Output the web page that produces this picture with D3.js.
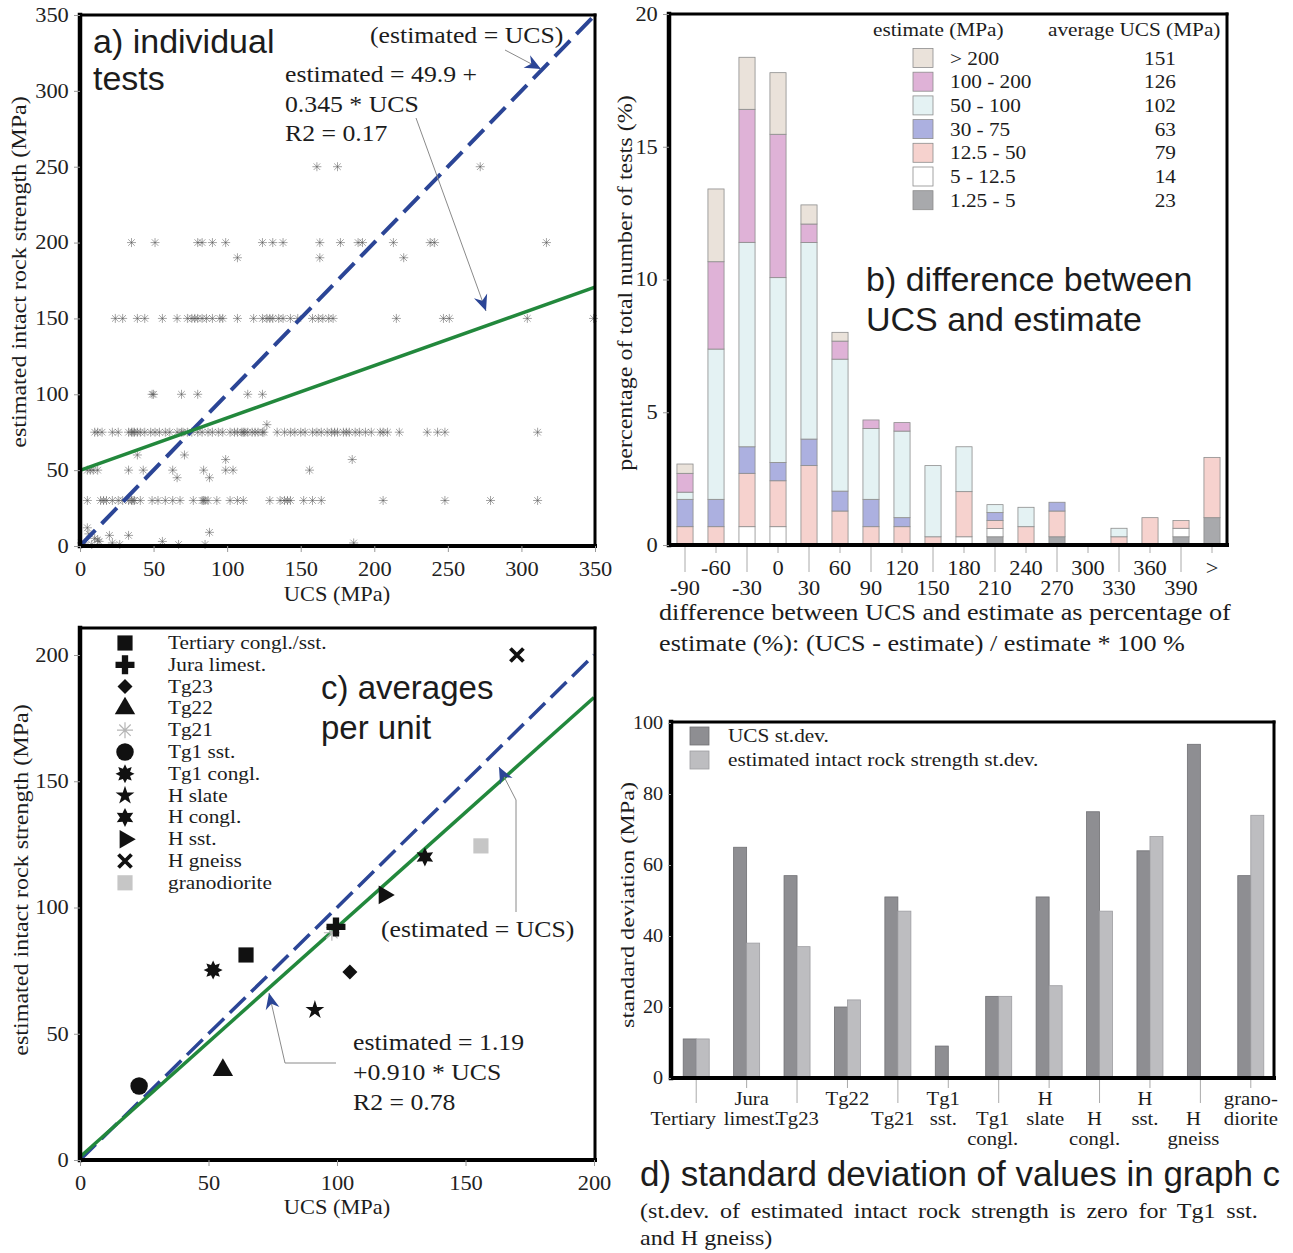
<!DOCTYPE html>
<html>
<head>
<meta charset="utf-8">
<script src="https://cdn.jsdelivr.net/npm/d3@7"></script>
<style>
  body { margin: 0; background: #fff; }
  svg { display: block; }
</style>
</head>
<body>
<svg id="fig" width="1293" height="1253"></svg>
<script>
// ---------- a) individual tests: UCS values at each estimated strength level ----------
const est250 = [161, 175, 272];
const est200 = [35, 51, 80, 83, 90, 99, 124, 131, 138, 163, 177, 189, 192, 213, 238, 241, 317];
const est190 = [107, 163, 220];
const est150 = [24, 29, 39, 44, 56, 66, 73, 76, 78, 80, 83, 86, 90, 95, 97, 107, 118, 124, 127, 129, 131,
                135, 138, 143, 148, 158, 162, 165, 169, 172, 215, 247, 251, 304, 349];
const est100 = [49, 50, 69, 80, 114, 124];
const est80 = [127];
const est75 = [10, 12, 15, 22, 26, 33, 35, 36, 37, 39, 41, 44, 48, 51, 54, 58, 61, 66, 69, 70, 73, 76, 80,
               83, 87, 90, 94, 97, 102, 105, 107, 110, 111, 112, 114, 117, 119, 121, 124, 125, 134, 139,
               143, 146, 150, 153, 158, 161, 164, 168, 171, 173, 175, 179, 181, 183, 187, 190, 194, 198,
               204, 206, 209, 217, 236, 243, 248, 311];
const est60 = [39, 71];
const est57 = [99, 185];
const est50 = [5, 7, 9, 12, 33, 43, 63, 84, 99, 104, 156];
const est45 = [66, 88];
const est30 = [5, 14, 16, 18, 22, 26, 29, 33, 35, 36, 37, 41, 49, 53, 58, 63, 68, 77, 83, 84, 85, 87, 93,
               102, 107, 111, 129, 136, 139, 141, 143, 152, 158, 164, 206, 248, 279, 311];
const lowUcs = [1, 3, 5, 6, 8, 10, 12, 13, 20, 22, 27, 33, 56, 67, 85, 88, 186];
const lowEst = [2, 2, 12, 8, 1, 5, 4, 3, 7, 2, 1, 7, 3, 1, 1, 9, 2];
const fitA = [49.9, 0.345];
const ticksA = [0, 50, 100, 150, 200, 250, 300, 350];

// ---------- b) difference between UCS and estimate ----------
const diffBins = ["-90", "-60", "-30", "0", "30", "60", "90", "120", "150", "180", "210", "240", "270",
                  "300", "330", "360", "390", ">"];
const estClasses = ["1.25 - 5", "5 - 12.5", "12.5 - 50", "30 - 75", "50 - 100", "100 - 200", "> 200"];
const avgUcs = [23, 14, 79, 63, 102, 126, 151];
const pct1_25 = [0, 0, 0, 0, 0, 0, 0, 0, 0, 0, 0.31, 0, 0.31, 0, 0, 0, 0.31, 1.03];
const pct5 = [0, 0, 0.69, 0.69, 0, 0, 0, 0, 0, 0.31, 0.31, 0, 0, 0, 0, 0, 0.32, 0];
const pct12_5 = [0.69, 0.69, 2.01, 1.73, 2.99, 1.28, 0.69, 0.69, 0.31, 1.7, 0.3, 0.69, 0.97, 0, 0.31, 1.03, 0.29, 2.27];
const pct30 = [1.03, 1.03, 1.0, 0.69, 1.0, 0.75, 1.03, 0.34, 0, 0, 0.3, 0, 0.33, 0, 0, 0, 0, 0];
const pct50 = [0.27, 5.66, 7.7, 6.96, 7.4, 4.97, 2.67, 3.26, 2.68, 1.69, 0.3, 0.73, 0, 0, 0.32, 0, 0, 0];
const pct100 = [0.71, 3.29, 5.01, 5.4, 0.7, 0.68, 0.32, 0.32, 0, 0, 0, 0, 0, 0, 0, 0, 0, 0];
const pct200 = [0.35, 2.74, 1.96, 2.32, 0.72, 0.33, 0, 0, 0, 0, 0, 0, 0, 0, 0, 0, 0, 0];
const ticksB = [0, 5, 10, 15, 20];
const classColors = ["#a8a9ac", "#ffffff", "#f6d2ce", "#acb0e0", "#e4f2f3", "#dfb2d7", "#eae2da"];

// ---------- c) averages per unit ----------
const units = ["Tertiary congl./sst.", "Jura limest.", "Tg23", "Tg22", "Tg21", "Tg1 sst.", "Tg1 congl.",
               "H slate", "H congl.", "H sst.", "H gneiss", "granodiorite"];
const unitUcs = [64.6, 99.6, 105, 55.6, 98, 23, 51.8, 91.4, 134.2, 118.3, 170, 156];
const unitEst = [81.2, 92.3, 74.5, 35.6, 90, 29.3, 75.2, 59.4, 120, 105, 200, 124.4];
const fitC = [1.19, 0.910];
const ticksC = [0, 50, 100, 150, 200];

// ---------- d) standard deviations ----------
const sdLabels = [["Tertiary"], ["Jura", "limest."], ["Tg23"], ["Tg22"], ["Tg21"], ["Tg1", "sst."],
                  ["Tg1", "congl."], ["H", "slate"], ["H", "congl."], ["H", "sst."], ["H", "gneiss"],
                  ["grano-", "diorite"]];
const ucsSd = [11, 65, 57, 20, 51, 9, 23, 51, 75, 64, 94, 57];
const estSd = [11, 38, 37, 22, 47, 0, 23, 26, 47, 68, 0, 74];
const ticksD = [0, 20, 40, 60, 80, 100];

const SERIF = "'Liberation Serif', 'Times New Roman', serif";
const SANS = "'Liberation Sans', Arial, sans-serif";
const SX = 1.12; // the original lettering is a bit wider than Times
const BLUE = "#2b4596";
const GREEN = "#22883c";
// labels under the d bars sit a little off their ticks in the original
const labelShiftD = [-13, 5, 0, 0, -5, -5, -6, -4, -5, -5, -7, 0];

const svg = d3.select("#fig");
svg.append("rect").attr("width", 1293).attr("height", 1253).attr("fill", "#fff");

// arrowhead used by the annotation leaders
svg.append("defs").append("marker")
    .attr("id", "arrow")
    .attr("markerUnits", "userSpaceOnUse")
    .attr("viewBox", "-17 -8 18 16")
    .attr("refX", 0).attr("refY", 0)
    .attr("markerWidth", 18).attr("markerHeight", 16)
    .attr("orient", "auto")
    .append("path")
    .attr("d", "M0,0L-16,-7L-11,0L-16,7Z")
    .attr("fill", BLUE);

function txt(g, x, y, s, size, o = {}) {
    let tr = `translate(${x},${y})`;
    if (o.rot) tr += ` rotate(${o.rot})`;
    const sx = o.sans || o.len ? 1 : SX;
    tr += ` scale(${sx},1)`;
    const t = g.append("text")
        .attr("transform", tr)
        .attr("font-family", o.sans ? SANS : SERIF)
        .attr("font-size", size)
        .attr("text-anchor", o.anchor || "start")
        .attr("fill", o.fill || "#1c1c1c")
        .text(s);
    if (o.len) t.attr("textLength", o.len).attr("lengthAdjust", "spacingAndGlyphs");
    if (o.ws) t.attr("word-spacing", o.ws);
    return t;
}

function frame(g, x0, y0, x1, y1) {
    const sides = [[x0, y0, x1, y0, 3], [x1, y0, x1, y1, 3], [x0, y1, x1, y1, 4], [x0, y0, x0, y1, 4.5]];
    sides.forEach(s => g.append("line")
        .attr("x1", s[0]).attr("y1", s[1]).attr("x2", s[2]).attr("y2", s[3])
        .attr("stroke", "#000").attr("stroke-width", s[4]).attr("stroke-linecap", "square"));
}

function styleAxis(ax, size) {
    ax.select(".domain").remove();
    ax.selectAll(".tick line").attr("stroke", "#999");
    ax.selectAll(".tick text")
        .attr("font-family", SERIF).attr("font-size", size).attr("fill", "#222")
        .attr("transform", `scale(${SX},1)`);
}

function leader(g, pts) {
    g.append("path")
        .attr("d", d3.line()(pts))
        .attr("fill", "none").attr("stroke", "#8a8a8a").attr("stroke-width", 1)
        .attr("marker-end", "url(#arrow)");
}

const AST = "M-4.5,0H4.5M0,-4.5V4.5M-3.3,-3.3L3.3,3.3M-3.3,3.3L3.3,-3.3";

// ================= panel a =================
const gA = svg.append("g");
const xA = d3.scaleLinear([0, 350], [80, 595]);
const yA = d3.scaleLinear([0, 350], [546, 15]);

const levelsA = [[250, est250], [200, est200], [190, est190], [150, est150], [100, est100], [80, est80],
                 [75, est75], [60, est60], [57, est57], [50, est50], [45, est45], [30, est30]];
const ptsA = [];
levelsA.forEach(([e, arr]) => arr.forEach(u => ptsA.push([u, e])));
lowUcs.forEach((u, i) => ptsA.push([u, lowEst[i]]));

gA.append("g").selectAll("path")
    .data(ptsA)
    .join("path")
    .attr("transform", d => `translate(${xA(d[0])},${yA(d[1])})`)
    .attr("d", AST)
    .attr("fill", "none").attr("stroke", "#555").attr("stroke-width", 0.9).attr("opacity", 0.6);

const lineA = d3.line().x(d => xA(d[0])).y(d => yA(d[1]));
gA.append("path").attr("d", lineA([[0, 0], [350, 350]]))
    .attr("fill", "none").attr("stroke", BLUE).attr("stroke-width", 4).attr("stroke-dasharray", "22 9");
gA.append("path").attr("d", lineA([0, 350].map(u => [u, fitA[0] + fitA[1] * u])))
    .attr("fill", "none").attr("stroke", GREEN).attr("stroke-width", 3.5);

frame(gA, 80, 15, 595, 546);
styleAxis(gA.append("g").attr("transform", "translate(80,0)")
    .call(d3.axisLeft(yA).tickValues(ticksA).tickSize(6).tickPadding(4)), 20);
styleAxis(gA.append("g").attr("transform", "translate(0,546)")
    .call(d3.axisBottom(xA).tickValues(ticksA).tickSize(6).tickPadding(10)), 20);

txt(gA, 337, 601, "UCS (MPa)", 20, { anchor: "middle" });
txt(gA, 26, 272, "estimated intact rock strength (MPa)", 21.5, { anchor: "middle", rot: -90 });
txt(gA, 93, 53, "a) individual", 34, { sans: true });
txt(gA, 93, 90, "tests", 34, { sans: true });
txt(gA, 370, 43, "(estimated = UCS)", 23);
txt(gA, 285, 82, "estimated = 49.9 +", 23);
txt(gA, 285, 112, "0.345 * UCS", 23);
txt(gA, 285, 141, "R2 = 0.17", 23);
leader(gA, [[505, 50], [541, 69]]);
leader(gA, [[416, 118], [486, 311]]);

// ================= panel b =================
const gB = svg.append("g");
const xB = d3.scaleBand(diffBins, [669.5, 1227.5]).paddingInner(0.48).paddingOuter(0.24);
const yB = d3.scaleLinear([0, 20], [545, 14]);
const pctSeries = [pct1_25, pct5, pct12_5, pct30, pct50, pct100, pct200];
const tableB = diffBins.map((b, i) => {
    const row = { bin: b };
    estClasses.forEach((c, k) => { row[c] = pctSeries[k][i]; });
    return row;
});
const stackB = d3.stack().keys(estClasses)(tableB);

gB.append("g").selectAll("g")
    .data(stackB)
    .join("g")
    .attr("fill", (d, k) => classColors[k])
    .selectAll("rect")
    .data(d => d.filter(s => s[1] - s[0] > 0))
    .join("rect")
    .attr("x", d => xB(d.data.bin))
    .attr("width", xB.bandwidth())
    .attr("y", d => yB(d[1]))
    .attr("height", d => yB(d[0]) - yB(d[1]))
    .attr("stroke", "#8d8d8d").attr("stroke-width", 0.8);

frame(gB, 669, 14, 1227, 545);
styleAxis(gB.append("g").attr("transform", "translate(669,0)")
    .call(d3.axisLeft(yB).tickValues(ticksB).tickSize(6).tickPadding(4)), 20);

diffBins.forEach((b, i) => {
    const cx = xB(b) + xB.bandwidth() / 2;
    const upper = i % 2 === 1;
    gB.append("line").attr("x1", cx).attr("x2", cx).attr("y1", 547).attr("y2", upper ? 553 : 572)
        .attr("stroke", "#aaa").attr("stroke-width", 1);
    txt(gB, cx, upper ? 575 : 595, b, 20, { anchor: "middle" });
});

txt(gB, 659, 620, "difference between UCS and estimate as percentage of", 23.4);
txt(gB, 659, 651, "estimate (%): (UCS - estimate) / estimate * 100 %", 23.4);
txt(gB, 632, 283, "percentage of total number of tests (%)", 21.5, { anchor: "middle", rot: -90 });
txt(gB, 866, 291, "b) difference between", 34, { sans: true });
txt(gB, 866, 331, "UCS and estimate", 34, { sans: true });

// legend b
txt(gB, 873, 36, "estimate (MPa)", 19);
txt(gB, 1048, 36, "average UCS (MPa)", 19);
for (let k = estClasses.length - 1, r = 0; k >= 0; k--, r++) {
    const cy = 58 + r * 23.7;
    gB.append("rect").attr("x", 913).attr("y", cy - 9.5).attr("width", 20).attr("height", 19)
        .attr("fill", classColors[k]).attr("stroke", "#8d8d8d").attr("stroke-width", 0.8);
    txt(gB, 950, cy + 6.5, estClasses[k], 19);
    txt(gB, 1176, cy + 6.5, avgUcs[k], 19, { anchor: "end" });
}

// ================= panel c =================
const gC = svg.append("g");
const xC = d3.scaleLinear([0, 200], [80, 594]);
const yC = d3.scaleLinear([0, 200], [1160, 655]);

function starPath(n, R, r) {
    const pts = [];
    for (let i = 0; i < 2 * n; i++) {
        const a = Math.PI * i / n - Math.PI / 2;
        const rr = i % 2 ? r : R;
        pts.push([rr * Math.cos(a), rr * Math.sin(a)]);
    }
    return "M" + pts.join("L") + "Z";
}

const markerDefs = [
    { d: d3.symbol(d3.symbolSquare, 230)(), fill: "#111" },
    { d: d3.symbol(d3.symbolCross, 200)(), fill: "#111" },
    { d: "M0,-7.5L7.5,0L0,7.5L-7.5,0Z", fill: "#111" },
    { d: d3.symbol(d3.symbolTriangle, 180)(), fill: "#111" },
    { d: "M-8,0H8M0,-8V8M-5.7,-5.7L5.7,5.7M-5.7,5.7L5.7,-5.7", stroke: "#b5b5b5", sw: 1.2 },
    { d: d3.symbol(d3.symbolCircle, 240)(), fill: "#111" },
    { d: starPath(8, 9.5, 5.5), fill: "#111" },
    { d: d3.symbol(d3.symbolStar, 110)(), fill: "#111" },
    { d: starPath(6, 9.5, 5), fill: "#111" },
    { d: d3.symbol(d3.symbolTriangle, 150)(), fill: "#111", rot: 90 },
    { d: "M-6.5,-6.5L6.5,6.5M-6.5,6.5L6.5,-6.5", stroke: "#111", sw: 3.8 },
    { d: d3.symbol(d3.symbolSquare, 230)(), fill: "#c6c6c6" }
];

function drawMarker(g, k, x, y) {
    const m = markerDefs[k];
    g.append("path")
        .attr("transform", `translate(${x},${y})` + (m.rot ? ` rotate(${m.rot})` : ""))
        .attr("d", m.d)
        .attr("fill", m.fill || "none")
        .attr("stroke", m.stroke || "none")
        .attr("stroke-width", m.sw || 0);
}

const lineC = d3.line().x(d => xC(d[0])).y(d => yC(d[1]));
gC.append("path").attr("d", lineC([[0, 0], [200, 200]]))
    .attr("fill", "none").attr("stroke", BLUE).attr("stroke-width", 3.5).attr("stroke-dasharray", "22 8");
gC.append("path").attr("d", lineC([0, 200].map(u => [u, fitC[0] + fitC[1] * u])))
    .attr("fill", "none").attr("stroke", GREEN).attr("stroke-width", 3.5);

[4, 0, 1, 2, 3, 5, 6, 7, 8, 9, 10, 11].forEach(k => drawMarker(gC, k, xC(unitUcs[k]), yC(unitEst[k])));

frame(gC, 80, 628, 595, 1160);
styleAxis(gC.append("g").attr("transform", "translate(80,0)")
    .call(d3.axisLeft(yC).tickValues(ticksC).tickSize(6).tickPadding(4)), 20);
styleAxis(gC.append("g").attr("transform", "translate(0,1160)")
    .call(d3.axisBottom(xC).tickValues(ticksC).tickSize(6).tickPadding(10)), 20);

txt(gC, 337, 1214, "UCS (MPa)", 20, { anchor: "middle" });
txt(gC, 28, 880, "estimated intact rock strength (MPa)", 21.5, { anchor: "middle", rot: -90 });
txt(gC, 321, 699, "c) averages", 33, { sans: true });
txt(gC, 321, 739, "per unit", 33, { sans: true });
txt(gC, 381, 937, "(estimated = UCS)", 23);
txt(gC, 353, 1050, "estimated = 1.19", 23);
txt(gC, 353, 1080, "+0.910 * UCS", 23);
txt(gC, 353, 1110, "R2 = 0.78", 23);
leader(gC, [[516, 912], [516, 800], [499, 767]]);
leader(gC, [[336, 1063], [285, 1063], [269, 993]]);

units.forEach((u, k) => {
    const cy = 643 + k * 21.8;
    drawMarker(gC, k, 125, cy);
    txt(gC, 168, cy + 6, u, 19);
});

// ================= panel d =================
const gD = svg.append("g");
const idxD = sdLabels.map((d, i) => i);
const xD = d3.scaleBand(idxD, [671, 1276]).paddingInner(0.484).paddingOuter(0.242);
const xSub = d3.scaleBand([0, 1], [0, xD.bandwidth()]);
const yD = d3.scaleLinear([0, 100], [1078, 723]);
const sdSeries = [ucsSd, estSd];
const sdFill = ["#8e8e92", "#bdbdc0"];
const sdStroke = ["#707074", "#9d9da1"];

sdSeries.forEach((arr, s) => {
    gD.append("g").selectAll("rect")
        .data(idxD.filter(i => arr[i] > 0))
        .join("rect")
        .attr("x", i => xD(i) + xSub(s))
        .attr("width", xSub.bandwidth())
        .attr("y", i => yD(arr[i]))
        .attr("height", i => yD(0) - yD(arr[i]))
        .attr("fill", sdFill[s]).attr("stroke", sdStroke[s]).attr("stroke-width", 0.8);
});

frame(gD, 671, 722, 1274, 1078);
styleAxis(gD.append("g").attr("transform", "translate(671,0)")
    .call(d3.axisLeft(yD).tickValues(ticksD).tickSize(3).tickPadding(4)), 18);

sdLabels.forEach((lines, i) => {
    const cx = xD(i) + xD.bandwidth() / 2;
    const odd = i % 2 === 1;
    gD.append("line").attr("x1", cx).attr("x2", cx).attr("y1", 1080).attr("y2", odd ? 1088 : 1103)
        .attr("stroke", "#aaa").attr("stroke-width", 1);
    lines.forEach((l, j) => txt(gD, cx + labelShiftD[i], (odd ? 1105 : 1125) + j * 20, l, 18.5, { anchor: "middle" }));
});

txt(gD, 634, 905, "standard deviation (MPa)", 19, { anchor: "middle", rot: -90, len: 246 });
gD.append("rect").attr("x", 690).attr("y", 727).attr("width", 19).attr("height", 18)
    .attr("fill", sdFill[0]).attr("stroke", sdStroke[0]).attr("stroke-width", 0.8);
gD.append("rect").attr("x", 690).attr("y", 751).attr("width", 19).attr("height", 18)
    .attr("fill", sdFill[1]).attr("stroke", sdStroke[1]).attr("stroke-width", 0.8);
txt(gD, 728, 742, "UCS st.dev.", 19);
txt(gD, 728, 766, "estimated intact rock strength st.dev.", 19);

txt(gD, 640, 1186, "d) standard deviation of values in graph c", 35, { sans: true });
txt(gD, 640, 1218, "(st.dev. of estimated intact rock strength is zero for Tg1 sst.", 21.5, { ws: 4.2 });
txt(gD, 640, 1245, "and H gneiss)", 21.5);
</script>
</body>
</html>
